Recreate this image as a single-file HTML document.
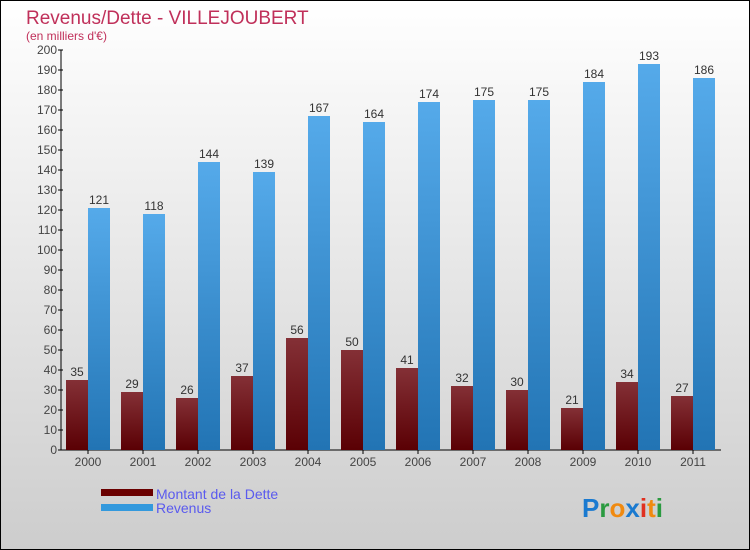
<!DOCTYPE html>
<html><head><meta charset="utf-8"><style>
body{margin:0}
svg{display:block;font-family:"Liberation Sans",sans-serif}
</style></head><body>
<svg width="750" height="550" viewBox="0 0 750 550">
<defs>
<linearGradient id="bg" x1="0" y1="0" x2="0" y2="1"><stop offset="0" stop-color="#ffffff"/><stop offset="1" stop-color="#cdcdcd"/></linearGradient>
<linearGradient id="gd" x1="0" y1="0" x2="0" y2="1"><stop offset="0" stop-color="#843036"/><stop offset="1" stop-color="#5a0004"/></linearGradient>
<linearGradient id="gr" x1="0" y1="0" x2="0" y2="1"><stop offset="0" stop-color="#55aaea"/><stop offset="1" stop-color="#2274b4"/></linearGradient>
</defs>
<rect x="0.5" y="0.5" width="749" height="549" fill="url(#bg)" stroke="#000"/>
<text x="26" y="24" font-size="19" fill="#c0305a">Revenus/Dette - VILLEJOUBERT</text>
<text x="26" y="40" font-size="12" fill="#c0305a">(en milliers d'€)</text>
<g id="axes"></g>
<g id="bars"></g>
<rect x="101" y="489" width="52" height="7" fill="#6a0000"/>
<text x="156" y="499" font-size="14" fill="#5a5aee">Montant de la Dette</text>
<rect x="101" y="504" width="52" height="7" fill="#3399dd"/>
<text x="156" y="513" font-size="14" fill="#5a5aee">Revenus</text>
<text x="582" y="517" font-size="26" font-weight="bold"><tspan fill="#1a7ad0">P</tspan><tspan fill="#2a9a40">r</tspan><tspan fill="#f08a10">o</tspan><tspan fill="#1a7ad0">x</tspan><tspan fill="#e03020">i</tspan><tspan fill="#f08a10">t</tspan><tspan fill="#2a9a40">i</tspan></text>
</svg>
<script>
const years=["2000","2001","2002","2003","2004","2005","2006","2007","2008","2009","2010","2011"];
const dette=[35,29,26,37,56,50,41,32,30,21,34,27];
const revenus=[121,118,144,139,167,164,174,175,175,184,193,186];
const yTicks=[0,10,20,30,40,50,60,70,80,90,100,110,120,130,140,150,160,170,180,190,200];
const NS="http://www.w3.org/2000/svg";
const x0=61,y0=450,step=55,bw=22;
const y=v=>y0-v*2;
const gx=i=>x0+5+i*step;
function mk(t,a,p){const e=document.createElementNS(NS,t);for(const k in a)e.setAttribute(k,a[k]);p.appendChild(e);return e;}
const ax=document.getElementById('axes'),bs=document.getElementById('bars');
const yl=mk('line',{x1:x0,y1:y0,x2:x0,y2:y(200),stroke:'#000'},ax);


const xl=mk('line',{x1:x0,y1:y0,x2:x0+12*step,y2:y0,stroke:'#000'},ax);


yTicks.forEach(v=>{
 mk('line',{x1:x0-3,y1:y(v),x2:x0+2,y2:y(v),stroke:'#000'},ax);
 const t=mk('text',{x:x0-4,y:y(v)+4,'font-size':12,'text-anchor':'end',fill:'#444'},ax);
 t.textContent=v;
 
 
});
years.forEach((yr,i)=>{
 const c=gx(i)+bw;
 mk('line',{x1:c,y1:y0,x2:c,y2:y0+4,stroke:'#000'},ax);
 const t=mk('text',{x:c,y:y0+16,'font-size':12,'text-anchor':'middle',fill:'#444'},ax);
 t.textContent=yr;
 
 
 const d=mk('rect',{x:gx(i),y:y(dette[i]),width:bw,height:dette[i]*2,fill:'url(#gd)'},bs);
 
 
 const r=mk('rect',{x:gx(i)+bw,y:y(revenus[i]),width:bw,height:revenus[i]*2,fill:'url(#gr)'},bs);
 
 
 const dl=mk('text',{x:gx(i)+bw/2,y:y(dette[i])-4,'font-size':12,'text-anchor':'middle',fill:'#333'},bs);
 dl.textContent=dette[i];
 
 
 const rl=mk('text',{x:gx(i)+bw*1.5,y:y(revenus[i])-4,'font-size':12,'text-anchor':'middle',fill:'#333'},bs);
 rl.textContent=revenus[i];
 
 
});
</script>
</body></html>
